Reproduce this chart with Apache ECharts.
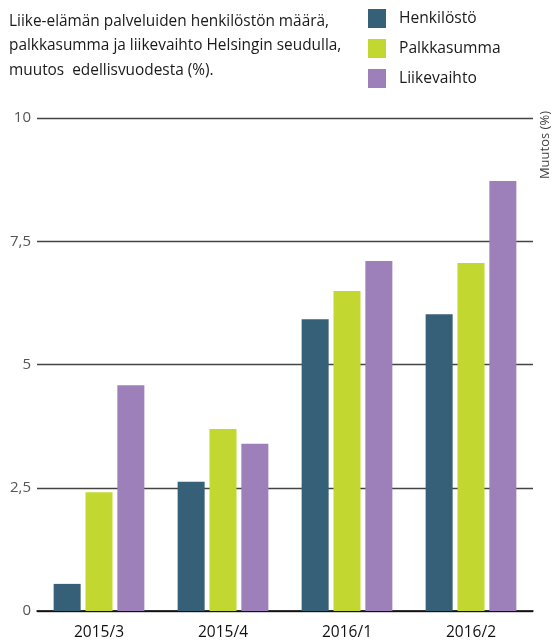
<!DOCTYPE html>
<html><head><meta charset="utf-8">
<script src="https://cdn.jsdelivr.net/npm/echarts@6/dist/echarts.min.js"></script>
<style>html,body{margin:0;padding:0;background:#fff}#c{width:553px;height:642px}</style>
</head><body><div id="c"></div>
<script>
const categories = ['2015/3', '2015/4', '2016/1', '2016/2'];
const henkilosto = [0.55, 2.62, 5.92, 6.02];
const palkkasumma = [2.41, 3.69, 6.49, 7.06];
const liikevaihto = [4.58, 3.39, 7.10, 8.72];
const seriesNames = ['Henkilöstö', 'Palkkasumma', 'Liikevaihto'];
const colors = ['#365f78', '#c2d72f', '#9d7fba'];
const titleText = 'Liike-elämän palveluiden henkilöstön määrä,\npalkkasumma ja liikevaihto Helsingin seudulla,\nmuutos  edellisvuodesta (%).';
const axisName = 'Muutos (%)';

const font = 'Open Sans';
const chart = echarts.init(document.getElementById('c'));
const data = [henkilosto, palkkasumma, liikevaihto];
chart.setOption({
  animation: false,
  title: {
    text: titleText, left: 4, top: 4,
    textStyle: {fontFamily: font, fontSize: 15.4, fontWeight: 'normal', color: '#1a1a1a', lineHeight: 24.5}
  },
  legend: {
    orient: 'vertical', left: 363, top: 4, itemWidth: 18, itemHeight: 19, itemGap: 11,
    icon: 'rect', data: seriesNames,
    textStyle: {fontFamily: font, fontSize: 15.6, color: '#1a1a1a', padding: [0, 0, 0, 8]}
  },
  graphic: [{
    type: 'text', left: 539, top: 111, rotation: Math.PI / 2,
    style: {text: axisName, font: '13px "' + font + '"', fill: '#444'}
  }],
  grid: {left: 37, right: 20, top: 118, bottom: 31},
  xAxis: {
    type: 'category', data: categories,
    axisLine: {lineStyle: {color: '#000', width: 1.5}},
    axisTick: {show: false},
    axisLabel: {fontFamily: font, fontSize: 15.5, color: '#111', margin: 14}
  },
  yAxis: {
    type: 'value', min: 0, max: 10, interval: 2.5,
    axisLine: {show: false}, axisTick: {show: false},
    splitLine: {lineStyle: {color: '#444', width: 1.3}},
    axisLabel: {fontFamily: font, fontSize: 15, color: '#555', margin: 6,
      formatter: v => String(v).replace('.', ',')}
  },
  series: seriesNames.map((n, i) => ({
    name: n, type: 'bar', data: data[i], barWidth: 27, barGap: '18%',
    itemStyle: {color: colors[i]}
  }))
});
</script></body></html>
